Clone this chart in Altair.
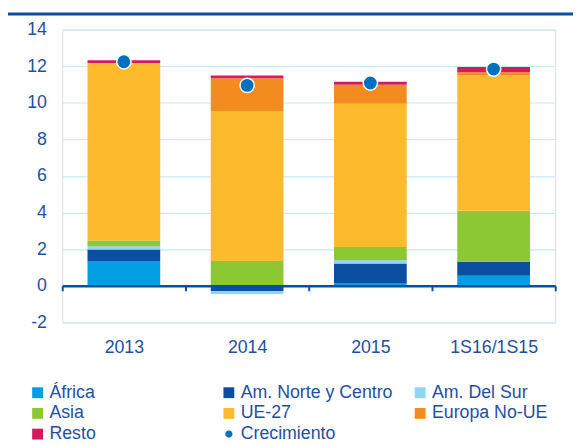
import altair as alt
import pandas as pd

years = ["2013", "2014", "2015", "1S16/1S15"]
regions = ["África", "Am. Norte y Centro", "Am. Del Sur", "Asia", "UE-27", "Europa No-UE", "Resto"]
africa = [1.35, 0.0, 0.15, 0.55]
am_norte = [0.63, -0.30, 1.07, 0.77]
am_sur = [0.18, -0.15, 0.18, -0.10]
asia = [0.32, 1.35, 0.72, 2.78]
ue27 = [9.69, 8.20, 7.83, 7.39]
europa_no_ue = [-0.06, 1.79, 1.04, 0.18]
resto = [0.15, 0.15, 0.16, 0.29]
crecimiento = [12.24, 10.95, 11.08, 11.84]
y_ticks = [-2, 0, 2, 4, 6, 8, 10, 12, 14]

series = [africa, am_norte, am_sur, asia, ue27, europa_no_ue, resto]
colors = ["#009FE3", "#0A4EA2", "#8ED4F5", "#8CC832", "#FDBA2C", "#F38B1F", "#D21C5B", "#0070C0"]
legend_domain = regions + ["Crecimiento"]

rows = []
for i, (name, vals) in enumerate(zip(regions, series)):
    for y, v in zip(years, vals):
        rows.append({"year": y, "region": name, "value": v, "idx": i})
bars_df = pd.DataFrame(rows)
growth_df = pd.DataFrame({"year": years, "region": ["Crecimiento"] * 4, "value": crecimiento})

TXT = "#1D50A2"
FONT = "Liberation Sans"
circle_path = "M-0.67,0A0.67,0.67,0,1,0,0.67,0A0.67,0.67,0,1,0,-0.67,0Z"

x_scale = alt.Scale(domain=years, paddingInner=0, paddingOuter=0)
y_scale = alt.Scale(domain=[-2, 14], nice=False, zero=False)
color_scale = alt.Scale(domain=legend_domain, range=colors)
shape_scale = alt.Scale(domain=legend_domain, range=["square"] * 7 + [circle_path])


def make_legend():
    return alt.Legend(
        title=None, orient="none", legendX=-34, legendY=359.3, columns=3,
        direction="horizontal", gridAlign="all", columnPadding=18, rowPadding=3,
        labelFontSize=18, labelColor=TXT, labelFont=FONT, labelOffset=3,
        symbolSize=121, symbolStrokeWidth=0, padding=0, labelLimit=300,
        symbolOpacity=1,
    )


x_axis = alt.Axis(
    title=None, offset=-37.1, tickBand="extent", domainColor="#0A4EA2", domainWidth=2.5,
    tickColor="#0A4EA2", tickWidth=2, tickSize=5, labelPadding=49, labelAngle=0,
    labelFontSize=18, labelColor=TXT, labelFont=FONT, grid=False, zindex=1,
)
y_axis = alt.Axis(
    title=None, values=y_ticks, tickCount=20, domain=False, ticks=False, labelPadding=16,
    labelFontSize=18, labelColor=TXT, labelFont=FONT, grid=True, gridColor="#C8E9F7",
    gridWidth=1.2, labelOverlap=False,
    labelExpr="datum.value < 0 ? '-' + abs(datum.value) : '' + datum.value",
)

bars = alt.Chart(bars_df).mark_bar(size=73.75).encode(
    x=alt.X("year:N", scale=x_scale, axis=x_axis, sort=years),
    y=alt.Y("value:Q", scale=y_scale, axis=y_axis, stack="zero"),
    color=alt.Color("region:N", scale=color_scale, legend=make_legend()),
    order=alt.Order("idx:Q", sort="ascending"),
)

points = alt.Chart(growth_df).mark_point(
    filled=True, size=470, opacity=1, stroke="white", strokeWidth=1.5
).encode(
    x=alt.X("year:N", scale=x_scale, sort=years),
    y=alt.Y("value:Q", scale=y_scale),
    color=alt.Color("region:N", scale=color_scale, legend=make_legend()),
    shape=alt.Shape("region:N", scale=shape_scale, legend=make_legend()),
)

top_rule = alt.Chart(pd.DataFrame({"a": [0]})).mark_rule(
    color="#0B4F9E", strokeWidth=3
).encode(x=alt.value(-55), x2=alt.value(518), y=alt.value(-15.7))

chart = alt.layer(top_rule, bars, points).properties(
    width=500, height=297,
    autosize=alt.AutoSizeParams(type="none"),
    padding={"left": 55, "top": 18.7, "right": 18, "bottom": 130},
).configure_view(stroke=None).configure(font=FONT)

chart.save("out.html", embed_options={"renderer": "svg", "actions": False})
